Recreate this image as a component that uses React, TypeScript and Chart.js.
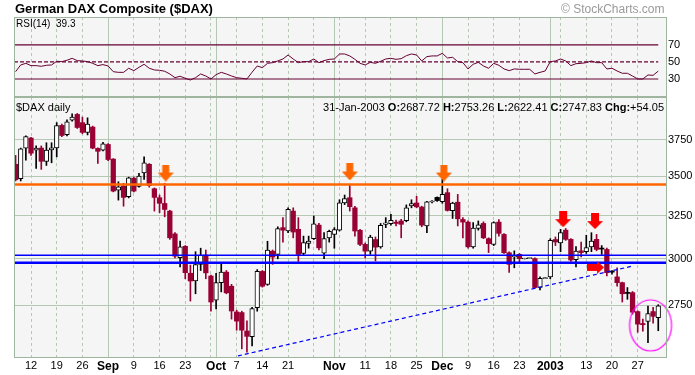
import React, { useEffect, useRef } from "react";
import { Chart, registerables } from "chart.js";

Chart.register(...registerables);

// ---------------- data ----------------
const openPrices = [
  3580, 3485, 3690, 3760, 3675, 3690, 3600, 3678, 3692, 3850,
  3783, 3888, 3930, 3870, 3800, 3838, 3688, 3675, 3715, 3615,
  3410, 3437, 3370, 3488, 3435, 3522, 3580, 3420, 3363, 3327,
  3280, 3143, 3006, 3071, 2920, 2878, 2969, 3021, 2905, 2776,
  2869, 2926, 2850, 2716, 2713, 2621, 2594, 2738, 2930, 2860,
  3043, 3025, 3180, 3160, 3280, 3170, 3030, 3088, 3115, 3195,
  3032, 3120, 3140, 3165, 3330, 3363, 3300, 3164, 3082, 3043,
  3110, 3068, 3199, 3203, 3213, 3220, 3222, 3312, 3330, 3305,
  3190, 3336, 3365, 3338, 3395, 3283, 3335, 3229, 3213, 3068,
  3175, 3205, 3115, 3082, 3213, 3140, 3034, 3010, 3025, 2999,
  3001, 3001, 2843, 2891, 2900, 3110, 3090, 3165, 3111, 2995,
  3045, 3040, 3068, 3111, 3058, 3053, 2930, 2900, 2869, 2815,
  2816, 2718, 2658, 2668, 2718, 2687.72,
];
const highPrices = [
  3640, 3690, 3775, 3765, 3705, 3705, 3727, 3727, 3870, 3860,
  3890, 3935, 3937, 3910, 3905, 3845, 3692, 3730, 3722, 3618,
  3465, 3455, 3495, 3495, 3520, 3630, 3585, 3425, 3380, 3455,
  3285, 3150, 3101, 3075, 2965, 3040, 3060, 3050, 2910, 2920,
  2975, 2935, 2860, 2725, 2720, 2672, 2740, 2940, 2935, 3100,
  3050, 3185, 3240, 3300, 3300, 3240, 3130, 3130, 3250, 3205,
  3150, 3165, 3180, 3350, 3380, 3445, 3310, 3170, 3090, 3135,
  3125, 3205, 3240, 3260, 3225, 3230, 3318, 3350, 3372, 3310,
  3340, 3345, 3368, 3480, 3420, 3335, 3384, 3240, 3220, 3210,
  3220, 3215, 3120, 3215, 3229, 3145, 3040, 3045, 3030, 3003,
  3004, 3005, 2900, 2896, 3115, 3125, 3170, 3175, 3115, 3070,
  3095, 3135, 3150, 3140, 3075, 3060, 2935, 2950, 2872, 2843,
  2822, 2722, 2680, 2746, 2740, 2753.26,
];
const lowPrices = [
  3470, 3470, 3608, 3640, 3553, 3546, 3572, 3590, 3630, 3770,
  3775, 3880, 3828, 3790, 3782, 3685, 3585, 3670, 3605, 3400,
  3348, 3310, 3362, 3400, 3430, 3480, 3430, 3280, 3270, 3245,
  3111, 3005, 2955, 2890, 2772, 2810, 2935, 2890, 2720, 2732,
  2820, 2810, 2680, 2625, 2535, 2519, 2549, 2720, 2845, 2855,
  2969, 3000, 3095, 3150, 3120, 2985, 3020, 3060, 3110, 3050,
  3000, 3095, 3060, 3160, 3320, 3280, 3130, 3075, 3005, 3025,
  2988, 3060, 3180, 3195, 3190, 3120, 3215, 3300, 3300, 3185,
  3150, 3330, 3340, 3328, 3280, 3235, 3190, 3120, 3060, 3060,
  3165, 3115, 3035, 3075, 3130, 3030, 2925, 2950, 2975, 2999,
  3001, 2840, 2830, 2891, 2890, 3075, 3040, 3105, 2985, 2955,
  3010, 3030, 3040, 3045, 3025, 2905, 2915, 2850, 2767, 2781,
  2705, 2615, 2620, 2565, 2660, 2622.41,
];
const closePrices = [
  3478, 3685, 3770, 3655, 3690, 3600, 3676, 3692, 3848, 3778,
  3875, 3910, 3835, 3800, 3860, 3690, 3668, 3720, 3612, 3405,
  3432, 3365, 3490, 3405, 3502, 3590, 3440, 3365, 3328, 3290,
  3120, 3015, 3068, 2923, 2878, 2968, 3021, 2922, 2767, 2869,
  2926, 2815, 2721, 2670, 2625, 2595, 2733, 2931, 2850, 3049,
  3010, 3174, 3165, 3290, 3154, 3025, 3092, 3101, 3203, 3062,
  3115, 3158, 3168, 3331, 3357, 3307, 3160, 3082, 3043, 3124,
  3066, 3193, 3209, 3223, 3205, 3200, 3300, 3326, 3306, 3195,
  3337, 3338, 3345, 3384, 3284, 3330, 3233, 3213, 3068, 3177,
  3197, 3120, 3086, 3210, 3146, 3034, 2969, 3020, 3001, 3003,
  3004, 2843, 2893, 2895, 3105, 3096, 3150, 3111, 2993, 3043,
  3035, 3063, 3101, 3053, 3055, 2923, 2926, 2869, 2810, 2812,
  2715, 2655, 2652, 2708, 2694, 2747.83,
];
const rsiValues = [
  38.6, 46.5, 48.4, 45.7, 45.7, 44.9, 46.1, 46.5, 50.8, 50.4,
  52.0, 54.3, 51.6, 51.2, 50.4, 48.4, 45.7, 46.9, 45.3, 38.6,
  37.8, 37.8, 42.6, 39.8, 43.7, 47.3, 42.6, 40.6, 40.2, 39.1,
  35.9, 31.5, 33.2, 30.8, 28.8, 31.5, 35.9, 33.5, 30.0, 35.1,
  37.8, 35.9, 33.5, 31.5, 30.8, 30.0, 38.0, 45.3, 43.3, 48.4,
  49.2, 51.2, 53.5, 58.2, 53.5, 49.2, 50.4, 50.4, 53.5, 49.2,
  51.6, 53.1, 53.5, 59.4, 59.4, 57.1, 53.1, 48.4, 46.5, 49.6,
  48.4, 50.8, 53.5, 54.3, 53.1, 53.9, 57.4, 59.4, 58.2, 51.2,
  56.3, 57.1, 57.1, 60.2, 54.7, 55.5, 50.4, 49.2, 41.8, 47.3,
  49.6, 45.3, 42.6, 48.4, 46.1, 41.8, 39.8, 41.8, 41.4, 41.4,
  41.4, 35.9, 37.8, 39.4, 50.4, 51.2, 53.5, 51.2, 45.7, 48.0,
  48.4, 49.2, 51.2, 49.2, 49.2, 41.8, 42.6, 39.4, 36.7, 36.7,
  33.5, 30.0, 30.0, 34.7, 34.3, 39.3,
];

const xLabelIdx = [3, 8, 13, 18, 23, 28, 33, 39, 43, 48, 53, 62, 68, 73, 78, 83, 88, 93, 98, 104, 111, 116, 121];
const xLabelText = ["12", "19", "26", "Sep", "9", "16", "23", "Oct", "7", "14", "21", "Nov", "11", "18", "25", "Dec", "9", "16", "23", "2003", "13", "20", "27"];
const boldLabelText = ["Sep", "Oct", "Nov", "Dec", "2003"];
const weekLineIdx = [3, 8, 13, 23, 28, 33, 38, 43, 48, 53, 58, 63, 68, 73, 78, 88, 93, 98, 106, 111, 116, 121];
const monthLineIdx = [18, 39, 62, 83, 104];
const priceTicks = [2750, 3000, 3250, 3500, 3750];
const rsiTicks = [30, 50, 70];
const rsiSolidLevels = [70, 30];
const rsiDashedLevel = 50;
const resistanceLevel = 3447;
const supportLevels = [3020, 2978];
const trendIdx = [43.26, 120.1];
const trendPrice = [2502, 2960];
const orangeArrowIdx = [29.2, 65.0, 83.3];
const orangeArrowPrice = [3522, 3529, 3522];
const redArrowIdx = [106.5, 112.7];
const redArrowPrice = [3231, 3219];
const rightArrowIdx = [112.8];
const rightArrowPrice = [2952];
const circleIdx = [123.5];
const circlePrice = [2649];

// ---------------- layout / style ----------------
const X_MIN = -0.307;
const X_MAX = 126.7;
const PRICE_MIN = 2492;
const PRICE_MAX = 4060;
const RSI_MIN = 8.8;
const RSI_MAX = 102.9;
const FONT = "'Liberation Sans', Arial, Helvetica, sans-serif";
const GRID = "#b4c8b4";
const FRAME = "#9fb59f";
const PANEL_BG = "#f5f5f5";
const MAROON = "#990033";
const RSI_COLOR = "#660033";

const framePlugin = {
  id: "panelFrame",
  beforeDraw(chart: any) {
    const { ctx, chartArea } = chart;
    ctx.save();
    ctx.fillStyle = PANEL_BG;
    ctx.fillRect(chartArea.left, chartArea.top, chartArea.right - chartArea.left, chartArea.bottom - chartArea.top);
    ctx.restore();
  },
  afterDraw(chart: any) {
    const { ctx, chartArea } = chart;
    ctx.save();
    ctx.strokeStyle = FRAME;
    ctx.lineWidth = 1;
    ctx.strokeRect(chartArea.left + 0.5, chartArea.top + 0.5, chartArea.right - chartArea.left - 1, chartArea.bottom - chartArea.top - 1);
    ctx.restore();
  },
};

function downArrow(color: string, w: number, h: number, shaftW: number, shaftH: number) {
  const c = document.createElement("canvas");
  c.width = w;
  c.height = h;
  const g = c.getContext("2d")!;
  g.fillStyle = color;
  const sx = (w - shaftW) / 2;
  g.beginPath();
  g.moveTo(sx, 0);
  g.lineTo(sx + shaftW, 0);
  g.lineTo(sx + shaftW, shaftH);
  g.lineTo(w, shaftH);
  g.lineTo(w / 2, h);
  g.lineTo(0, shaftH);
  g.lineTo(sx, shaftH);
  g.closePath();
  g.fill();
  return c;
}

function rightArrow(color: string, w: number, h: number, shaftLen: number, shaftH: number) {
  const c = document.createElement("canvas");
  c.width = w;
  c.height = h;
  const g = c.getContext("2d")!;
  g.fillStyle = color;
  const sy = (h - shaftH) / 2;
  g.beginPath();
  g.moveTo(0, sy);
  g.lineTo(shaftLen, sy);
  g.lineTo(shaftLen, 0);
  g.lineTo(w, h / 2);
  g.lineTo(shaftLen, h);
  g.lineTo(shaftLen, sy + shaftH);
  g.lineTo(0, sy + shaftH);
  g.closePath();
  g.fill();
  return c;
}

function ellipseImg(color: string, rx: number, ry: number) {
  const c = document.createElement("canvas");
  c.width = Math.ceil(rx * 2 + 4);
  c.height = Math.ceil(ry * 2 + 4);
  const g = c.getContext("2d")!;
  g.strokeStyle = color;
  g.lineWidth = 1.2;
  g.beginPath();
  g.ellipse(c.width / 2, c.height / 2, rx, ry, 0, 0, Math.PI * 2);
  g.stroke();
  return c;
}

const noPad = (s: any) => {
  s.paddingTop = 0;
  s.paddingBottom = 0;
  s.paddingLeft = 0;
  s.paddingRight = 0;
};

function gridAxis(ticks: number[], dashed: boolean) {
  return {
    type: "linear",
    axis: "x",
    position: "bottom",
    min: X_MIN,
    max: X_MAX,
    offset: false,
    display: true,
    afterBuildTicks: (s: any) => {
      s.ticks = ticks.map((v) => ({ value: v }));
    },
    afterFit: (s: any) => {
      s.height = 0;
      noPad(s);
    },
    ticks: { display: false },
    grid: { display: true, offset: false, color: GRID, lineWidth: 1, drawTicks: false, borderDash: dashed ? [3, 3] : [] },
    border: { display: false, dash: dashed ? [3, 3] : [] },
  };
}

function labelFor(v: number) {
  const k = xLabelIdx.indexOf(v);
  return k >= 0 ? xLabelText[k] : "";
}

export default function App() {
  const rsiRef = useRef<HTMLCanvasElement>(null);
  const mainRef = useRef<HTMLCanvasElement>(null);

  useEffect(() => {
    const idx = closePrices.map((_, i) => i);
    const isUp = closePrices.map((c, i) => (i === 0 ? c >= openPrices[0] : c >= closePrices[i - 1]));
    const isHollow = closePrices.map((c, i) => c > openPrices[i]);
    const bodyFill = idx.map((i) => (isHollow[i] ? "#ffffff" : isUp[i] ? "#000000" : MAROON));
    const bodyBorder = idx.map((i) => (isUp[i] ? "#000000" : MAROON));
    const bodyBorderW = idx.map((i) => (isHollow[i] ? 1 : 0));
    const wickColor = idx.map((i) => (isUp[i] ? "#000000" : MAROON));

    const orangeImg = downArrow("#ff6600", 16, 17, 7, 8);
    const redImg = downArrow("#ff0000", 16, 16, 8, 8);
    const rightImg = rightArrow("#ff0000", 17, 13, 10, 7);
    const circleImg = ellipseImg("#ff00ff", 21, 25.5);

    const rsiChart = new Chart(rsiRef.current!, {
      type: "line",
      data: {
        datasets: [
          {
            data: idx.map((i) => ({ x: i, y: rsiValues[i] })),
            borderColor: RSI_COLOR,
            borderWidth: 1,
            pointRadius: 0,
            tension: 0,
            xAxisID: "x",
            yAxisID: "y",
          },
          ...rsiSolidLevels.map((lv) => ({
            data: [{ x: X_MIN, y: lv }, { x: 125, y: lv }],
            borderColor: RSI_COLOR,
            borderWidth: 1.2,
            pointRadius: 0,
            xAxisID: "x",
            yAxisID: "y",
          })),
          {
            data: [{ x: X_MIN, y: rsiDashedLevel }, { x: 125, y: rsiDashedLevel }],
            borderColor: RSI_COLOR,
            borderWidth: 1.2,
            borderDash: [4, 2],
            pointRadius: 0,
            xAxisID: "x",
            yAxisID: "y",
          },
        ],
      },
      options: {
        responsive: false,
        animation: false,
        devicePixelRatio: 1,
        events: [],
        layout: { autoPadding: false, padding: { left: 14, right: 0, top: 17, bottom: 3 } },
        plugins: { legend: { display: false }, tooltip: { enabled: false } },
        scales: {
          x: { type: "linear", min: X_MIN, max: X_MAX, offset: false, display: false },
          xw: gridAxis(weekLineIdx, true),
          xm: gridAxis(monthLineIdx, false),
          y: {
            type: "linear",
            position: "right",
            min: RSI_MIN,
            max: RSI_MAX,
            afterBuildTicks: (s: any) => {
              s.ticks = rsiTicks.map((v) => ({ value: v }));
            },
            afterFit: (s: any) => {
              s.width = 28;
              noPad(s);
            },
            grid: { display: false, drawTicks: false },
            border: { display: false },
            ticks: { padding: 1, color: "#000", font: { family: FONT, size: 11 }, callback: (v: any) => String(v) },
          },
        } as any,
      },
      plugins: [framePlugin],
    } as any);

    const lineDs = (pts: { x: number; y: number }[], color: string, width: number, dash: number[] = []) => ({
      type: "line",
      data: pts,
      borderColor: color,
      borderWidth: width,
      borderDash: dash,
      pointRadius: 0,
      xAxisID: "x",
      yAxisID: "y",
    });
    const markDs = (xs: number[], ys: number[], img: HTMLCanvasElement, clip = true) => ({
      type: "line",
      data: xs.map((x, k) => ({ x, y: ys[k] })),
      showLine: false,
      pointStyle: img,
      pointRadius: 8,
      clip: clip ? undefined : false,
      xAxisID: "x",
      yAxisID: "y",
    });

    const mainChart = new Chart(mainRef.current!, {
      type: "bar",
      data: {
        datasets: [
          markDs(circleIdx, circlePrice, circleImg, false),
          markDs(orangeArrowIdx, orangeArrowPrice, orangeImg),
          markDs(redArrowIdx, redArrowPrice, redImg),
          markDs(rightArrowIdx, rightArrowPrice, rightImg),
          lineDs([{ x: X_MIN, y: resistanceLevel }, { x: X_MAX, y: resistanceLevel }], "#ff6600", 2.5),
          lineDs([{ x: X_MIN, y: supportLevels[0] }, { x: X_MAX, y: supportLevels[0] }], "#0000ff", 1.4),
          lineDs([{ x: X_MIN, y: supportLevels[1] }, { x: X_MAX, y: supportLevels[1] }], "#0000ff", 2.6),
          lineDs([{ x: trendIdx[0], y: trendPrice[0] }, { x: trendIdx[1], y: trendPrice[1] }], "#0000ff", 1.2, [4, 3]),
          {
            type: "bar",
            data: idx.map((i) => ({ x: i, y: [openPrices[i], closePrices[i]] })),
            backgroundColor: bodyFill,
            borderColor: bodyBorder,
            borderWidth: bodyBorderW,
            borderSkipped: false,
            barThickness: 4.6,
            minBarLength: 1,
            grouped: false,
            xAxisID: "x",
            yAxisID: "y",
          },
          {
            type: "bar",
            data: idx.map((i) => ({ x: i, y: [lowPrices[i], highPrices[i]] })),
            backgroundColor: wickColor,
            borderWidth: 0,
            barThickness: 1,
            grouped: false,
            xAxisID: "x",
            yAxisID: "y",
          },
        ],
      },
      options: {
        responsive: false,
        animation: false,
        devicePixelRatio: 1,
        events: [],
        layout: { autoPadding: false, padding: { left: 14, right: 0, top: 1, bottom: 0 } },
        plugins: { legend: { display: false }, tooltip: { enabled: false } },
        scales: {
          x: {
            type: "linear",
            position: "bottom",
            min: X_MIN,
            max: X_MAX,
            offset: false,
            afterBuildTicks: (s: any) => {
              s.ticks = xLabelIdx.map((v) => ({ value: v }));
            },
            afterFit: (s: any) => {
              s.height = 17;
              noPad(s);
            },
            grid: { display: false, offset: false, drawTicks: false },
            border: { display: false },
            ticks: {
              autoSkip: false,
              maxRotation: 0,
              minRotation: 0,
              padding: 1,
              color: "#000",
              font: (ctx: any) => {
                const lab = ctx.tick ? labelFor(ctx.tick.value) : "";
                return boldLabelText.includes(lab)
                  ? { family: FONT, size: 12, weight: "bold" }
                  : { family: FONT, size: 11 };
              },
              callback: (v: any) => labelFor(Number(v)),
            },
          },
          xw: gridAxis(weekLineIdx, true),
          xm: gridAxis(monthLineIdx, false),
          y: {
            type: "logarithmic",
            position: "right",
            min: PRICE_MIN,
            max: PRICE_MAX,
            afterBuildTicks: (s: any) => {
              s.ticks = priceTicks.map((v) => ({ value: v }));
            },
            afterFit: (s: any) => {
              s.width = 28;
              noPad(s);
            },
            grid: { color: GRID, lineWidth: 1, drawTicks: false },
            border: { display: false },
            ticks: { padding: 1, color: "#000", font: { family: FONT, size: 11 }, callback: (v: any) => String(v) },
          },
        } as any,
      },
      plugins: [framePlugin],
    } as any);

    return () => {
      rsiChart.destroy();
      mainChart.destroy();
    };
  }, []);

  const abs: React.CSSProperties = { position: "absolute", whiteSpace: "pre", lineHeight: 1, color: "#000" };

  return (
    <div
      style={{
        position: "fixed",
        left: 0,
        top: 0,
        width: 695,
        height: 375,
        background: "#ffffff",
        overflow: "hidden",
        fontFamily: FONT,
      }}
    >
      <canvas ref={rsiRef} width={695} height={100} style={{ position: "absolute", left: 0, top: 0 }} />
      <canvas ref={mainRef} width={695} height={279} style={{ position: "absolute", left: 0, top: 96 }} />
      <div style={{ ...abs, left: 15, top: 2, fontSize: 13, fontWeight: "bold" }}>German DAX Composite ($DAX)</div>
      <div style={{ ...abs, left: 561, top: 3, fontSize: 12, color: "#999999" }}>© StockCharts.com</div>
      <div style={{ ...abs, left: 16, top: 19, fontSize: 10 }}>{"RSI(14)  39.3"}</div>
      <div style={{ ...abs, left: 16, top: 102, fontSize: 11 }}>$DAX daily</div>
      <div style={{ ...abs, right: 31, top: 102, fontSize: 11 }}>
        {"31-Jan-2003 "}
        <b>O:</b>
        {"2687.72 "}
        <b>H:</b>
        {"2753.26 "}
        <b>L:</b>
        {"2622.41 "}
        <b>C:</b>
        {"2747.83 "}
        <b>Chg:</b>
        {"+54.05"}
      </div>
    </div>
  );
}
